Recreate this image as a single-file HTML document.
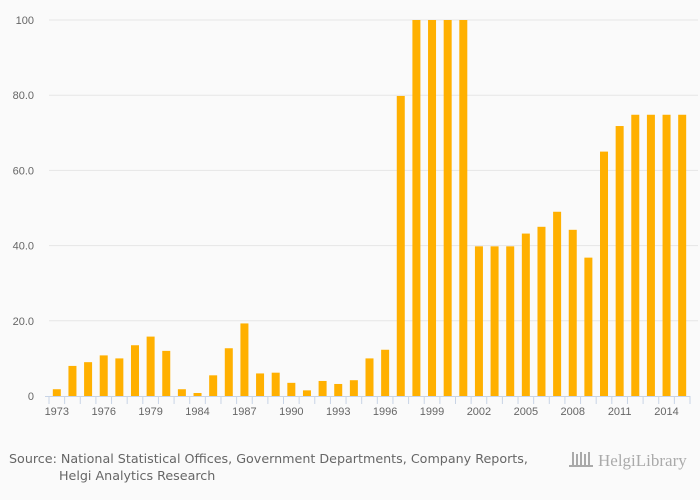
<!DOCTYPE html>
<html><head><meta charset="utf-8"><style>
body{margin:0;background:#fafafa;font-family:"Liberation Sans",sans-serif;}
#wrap{position:relative;width:700px;height:500px;background:#fafafa;}
svg{position:absolute;left:0;top:0}
</style></head><body>
<div id="wrap">
<svg id="chart" width="700" height="500"></svg>
</div>
<script>
const categories=["1973","1974","1975","1976","1977","1978","1979","1980","1981","1984","1985","1986","1987","1988","1989","1990","1991","1992","1993","1994","1995","1996","1997","1998","1999","2000","2001","2002","2003","2004","2005","2006","2007","2008","2009","2010","2011","2012","2013","2014","2015"];
const values=[1.8,8,9,10.8,10,13.5,15.8,12,1.8,0.8,5.5,12.7,19.3,6,6.2,3.5,1.5,4,3.2,4.2,10,12.3,79.8,100,100,100,100,39.8,39.8,39.8,43.2,45,49,44.2,36.8,65,71.8,74.8,74.8,74.8,74.8];
const yTicks=[0,20,40,60,80,100];
const yTickLabels=["0","20.0","40.0","60.0","80.0","100"];
const xLabelEvery=3;

const NS="http://www.w3.org/2000/svg";
const svg=document.getElementById('chart');
const L=49,R=690,T=20,B=396,yMax=100;
const band=(R-L)/categories.length;
const x=i=>L+band*(i+0.5);
const y=v=>B-(v/yMax)*(B-T);
function mk(tag,attrs,parent){const e=document.createElementNS(NS,tag);for(const k in attrs)e.setAttribute(k,attrs[k]);(parent||svg).appendChild(e);return e;}

yTicks.forEach((t,i)=>{
  if(t>0){const g=mk('line',{x1:L,x2:R+8,y1:y(t),y2:y(t),stroke:'#e6e6e6','stroke-width':1});
  
  }
  const tx=mk('text',{x:34,y:y(t)+4,'text-anchor':'end','font-size':11,fill:'#666'});
  tx.textContent=yTickLabels[i];
  
  
});
values.forEach((v,i)=>{
  const r=mk('rect',{x:x(i)-4,y:y(v),width:8,height:B-y(v),fill:'#ffb000'});
  
  
});
const ax=mk('line',{x1:L-4,x2:R,y1:B+0.5,y2:B+0.5,stroke:'#c8d4e6','stroke-width':1});


for(let i=0;i<=categories.length;i++){
  const tk=mk('line',{x1:L+band*i,x2:L+band*i,y1:B,y2:B+8,stroke:'#c8d4e6','stroke-width':1});
  
  
}
categories.forEach((c,i)=>{
  if(i%xLabelEvery!==0)return;
  const t=mk('text',{x:x(i),y:B+19,'text-anchor':'middle','font-size':11,fill:'#666'});
  t.textContent=c;
  
  
});
const s1=mk('text',{x:9,y:463,'font-size':12.7,fill:'#666','font-family':'DejaVu Sans, sans-serif'});
s1.textContent='Source: National Statistical Offices, Government Departments, Company Reports,';


const s2=mk('text',{x:59,y:480,'font-size':12.7,fill:'#666','font-family':'DejaVu Sans, sans-serif'});
s2.textContent='Helgi Analytics Research';


const logo=mk('text',{x:598,y:466,'font-size':17,fill:'#aaa','font-family':'Liberation Serif, serif'});
logo.textContent='HelgiLibrary';


const ic=mk('g',{fill:'#aaa'});


[0,4,8,12,16].forEach((d,i)=>mk('rect',{x:572+d,y:452+(i%2)*2,width:2,height:14-(i%2)*2},ic));
mk('rect',{x:569,y:465,width:24,height:2},ic);
</script>
</body></html>
